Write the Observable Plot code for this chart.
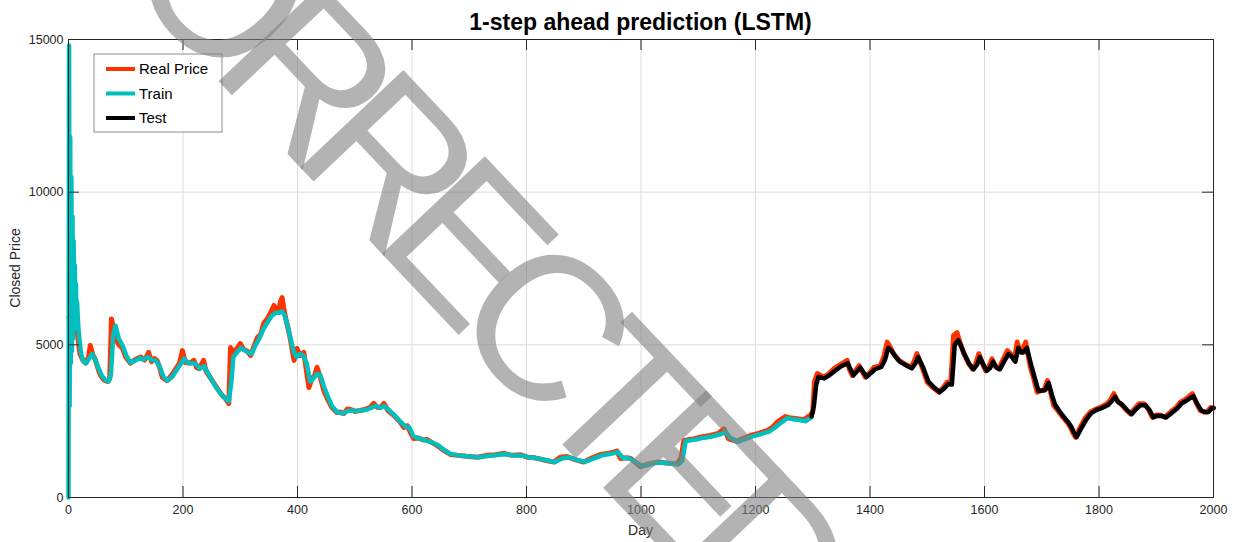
<!DOCTYPE html>
<html><head><meta charset="utf-8">
<script src="https://cdn.jsdelivr.net/npm/d3@7"></script>
<script src="https://cdn.jsdelivr.net/npm/@observablehq/plot@0.6"></script>
<style>body{margin:0;background:#fff;} #chart{width:1235px;height:542px;}</style>
</head><body><div id="chart"></div>
<script>
// ---- data (day, closed price) ----
const realPrice = [[1,5900],[4,6100],[7,5800],[10,6000],[13,5700],[16,5300],[20,4700],[25,4500],[30,4400],[35,4600],[38,4980],[42,4700],[47,4500],[52,4200],[56,4000],[62,3850],[68,3800],[72,3900],[75,5850],[78,5600],[82,5200],[88,5000],[94,4900],[100,4600],[108,4400],[115,4500],[120,4550],[126,4600],[133,4500],[140,4750],[145,4450],[150,4550],[155,4480],[160,4200],[164,3930],[172,3830],[180,4000],[187,4200],[194,4400],[199,4810],[204,4420],[212,4400],[219,4490],[224,4250],[228,4220],[236,4490],[240,4150],[245,4000],[252,3800],[260,3570],[268,3350],[274,3240],[280,3080],[283,4910],[289,4750],[295,4900],[300,5040],[306,4850],[312,4800],[318,4650],[324,4950],[330,5240],[336,5350],[341,5700],[347,5850],[353,6050],[359,6290],[363,6100],[367,6060],[370,6400],[373,6550],[376,6200],[379,5900],[384,5500],[388,5140],[391,4800],[394,4490],[399,4880],[405,4650],[411,4750],[416,4100],[420,3600],[425,3900],[430,4000],[434,4260],[440,3930],[446,3500],[452,3240],[460,2950],[469,2780],[475,2800],[481,2750],[487,2900],[493,2880],[500,2820],[510,2850],[520,2900],[527,2950],[533,3080],[540,2950],[545,2950],[551,3080],[558,2850],[568,2690],[578,2500],[586,2290],[592,2350],[598,2100],[603,1930],[612,1950],[620,1880],[626,1900],[635,1800],[644,1700],[655,1550],[667,1410],[680,1380],[695,1350],[714,1320],[730,1380],[745,1400],[760,1440],[775,1380],[790,1400],[801,1320],[815,1300],[830,1230],[848,1160],[859,1320],[871,1340],[885,1240],[900,1160],[915,1300],[929,1410],[945,1450],[958,1520],[964,1280],[975,1300],[982,1280],[990,1150],[999,1015],[1010,1080],[1028,1160],[1045,1130],[1063,1100],[1070,1300],[1075,1870],[1085,1900],[1092,1920],[1105,1980],[1121,2030],[1135,2100],[1145,2250],[1153,1920],[1168,1840],[1180,1950],[1191,2030],[1205,2100],[1220,2190],[1230,2300],[1238,2470],[1252,2650],[1262,2600],[1273,2580],[1285,2550],[1296,2700],[1300,2800],[1303,3800],[1308,4060],[1319,3940],[1328,4050],[1337,4220],[1348,4350],[1360,4490],[1364,4200],[1369,4000],[1381,4320],[1392,3940],[1400,4100],[1407,4260],[1418,4320],[1424,4600],[1430,5090],[1436,4900],[1441,4710],[1450,4500],[1459,4390],[1471,4270],[1477,4450],[1482,4710],[1491,4270],[1500,3780],[1510,3600],[1520,3450],[1528,3600],[1535,3780],[1541,3720],[1546,5310],[1552,5400],[1555,5200],[1564,4710],[1572,4400],[1579,4210],[1585,4400],[1590,4710],[1596,4400],[1602,4150],[1608,4300],[1613,4540],[1619,4300],[1625,4210],[1632,4500],[1640,4810],[1646,4700],[1652,4490],[1657,5090],[1662,4800],[1666,4810],[1672,5090],[1680,4270],[1686,3900],[1692,3450],[1698,3500],[1704,3510],[1710,3830],[1716,3400],[1721,3010],[1730,2800],[1739,2580],[1745,2450],[1750,2300],[1755,2100],[1759,1975],[1768,2330],[1776,2600],[1785,2800],[1795,2900],[1803,2960],[1814,3070],[1820,3200],[1826,3400],[1832,3150],[1838,3070],[1846,2900],[1855,2740],[1862,2900],[1870,3070],[1879,3070],[1886,2900],[1893,2630],[1900,2700],[1908,2690],[1915,2630],[1925,2800],[1935,2950],[1942,3120],[1950,3200],[1957,3300],[1963,3400],[1970,3100],[1977,2850],[1983,2800],[1989,2800],[1995,2950],[2000,2930]];

const trainPred = [[0,0],[1,14800],[2,3000],[3,11800],[4,4400],[5,10500],[6,4800],[7,9200],[8,5200],[9,8400],[10,5500],[11,7600],[12,5600],[13,7000],[14,5800],[15,6400],[17,5600],[19,5200],[22,4700],[26,4450],[31,4400],[36,4550],[41,4700],[46,4550],[52,4250],[58,4000],[64,3850],[70,3800],[74,4000],[78,5300],[82,5630],[88,5200],[95,4950],[101,4650],[108,4420],[116,4480],[124,4560],[131,4520],[139,4600],[146,4500],[153,4480],[159,4300],[166,3950],[173,3830],[181,3950],[188,4150],[195,4350],[202,4550],[208,4420],[215,4400],[222,4380],[229,4220],[237,4300],[243,4100],[250,3850],[258,3600],[266,3400],[273,3260],[280,3150],[284,3700],[288,4600],[294,4750],[301,4900],[308,4820],[314,4750],[320,4700],[327,5000],[333,5200],[340,5500],[348,5750],[355,5950],[362,6050],[368,6050],[373,6100],[378,5950],[383,5600],[388,5200],[393,4800],[398,4600],[404,4700],[410,4650],[416,4400],[422,3800],[428,3900],[434,4050],[440,4000],[446,3650],[452,3350],[460,3000],[469,2800],[478,2750],[486,2820],[494,2850],[502,2830],[512,2850],[522,2880],[530,2950],[537,3000],[544,2930],[551,3000],[559,2880],[569,2700],[579,2500],[588,2330],[595,2300],[603,2000],[613,1930],[622,1880],[632,1820],[645,1720],[656,1560],[668,1420],[682,1380],[700,1340],[716,1320],[732,1360],[748,1390],[762,1420],[777,1380],[792,1370],[805,1320],[820,1280],[835,1220],[850,1160],[862,1280],[873,1320],[888,1230],[903,1170],[918,1280],[932,1380],[947,1430],[960,1480],[968,1300],[980,1280],[992,1150],[1002,1030],[1015,1080],[1030,1150],[1048,1120],[1066,1090],[1072,1200],[1078,1850],[1088,1880],[1096,1900],[1110,1960],[1125,2000],[1140,2080],[1148,2150],[1156,1950],[1170,1830],[1183,1920],[1195,2000],[1210,2080],[1225,2170],[1235,2300],[1243,2430],[1256,2600],[1266,2560],[1277,2540],[1288,2500],[1297,2620]];

const testPred = [[1298,2650],[1302,3000],[1306,3700],[1310,3950],[1320,3900],[1329,4000],[1339,4150],[1350,4300],[1361,4400],[1366,4200],[1371,4000],[1383,4250],[1394,3950],[1402,4080],[1409,4200],[1420,4280],[1426,4500],[1432,4900],[1438,4800],[1443,4650],[1452,4450],[1461,4350],[1473,4230],[1479,4380],[1484,4600],[1493,4250],[1502,3800],[1512,3600],[1522,3450],[1530,3580],[1537,3720],[1543,3700],[1548,5000],[1554,5150],[1558,5000],[1566,4650],[1574,4350],[1581,4200],[1587,4350],[1592,4600],[1598,4350],[1604,4150],[1610,4250],[1615,4450],[1621,4250],[1627,4200],[1634,4450],[1642,4700],[1648,4600],[1654,4450],[1659,4900],[1664,4750],[1668,4750],[1674,4900],[1682,4300],[1688,3900],[1694,3500],[1700,3500],[1706,3520],[1712,3750],[1718,3350],[1723,3050],[1732,2800],[1741,2580],[1747,2450],[1752,2300],[1757,2100],[1761,1980],[1770,2300],[1778,2560],[1787,2770],[1797,2880],[1805,2930],[1816,3030],[1822,3150],[1828,3300],[1834,3120],[1840,3050],[1848,2880],[1857,2730],[1864,2880],[1872,3020],[1881,3020],[1888,2870],[1895,2620],[1902,2680],[1910,2670],[1917,2620],[1927,2770],[1937,2920],[1944,3080],[1952,3160],[1959,3250],[1965,3320],[1972,3050],[1979,2850],[1985,2800],[1991,2800],[1997,2920],[2000,2930]];

const xTicks = [0, 200, 400, 600, 800, 1000, 1200, 1400, 1600, 1800, 2000];
const yTicks = [0, 5000, 10000, 15000];
const seriesNames = ["Real Price", "Train", "Test"];
const seriesColors = ["#ff3300", "#00bfbf", "#000000"];
const titleText = "1-step ahead prediction (LSTM)";
const xLabel = "Day";
const yLabel = "Closed Price";
const watermark = "CORRECTED";

// ---- layout ----
const W = 1235, H = 542, mL = 68, mR = 22, mT = 39, mB = 45;
const plotW = W - mL - mR, plotH = H - mT - mB, tickLen = 11;
const axisColor = "#262626";
const font = "'Liberation Sans', Arial, Helvetica, sans-serif";

const chart = Plot.plot({
  width: W, height: H,
  marginLeft: mL, marginRight: mR, marginTop: mT, marginBottom: mB,
  style: {fontFamily: font, fontSize: "12.5px", color: axisColor, background: "#fff", overflow: "visible"},
  x: {domain: [0, 2000]},
  y: {domain: [0, 15000]},
  marks: [
    Plot.gridX(xTicks, {stroke: "#dcdcdc", strokeOpacity: 1}),
    Plot.gridY(yTicks, {stroke: "#dcdcdc", strokeOpacity: 1}),
    Plot.line(realPrice, {x: d => d[0], y: d => d[1], stroke: seriesColors[0], strokeWidth: 5, strokeLinejoin: "round"}),
    Plot.line(trainPred, {x: d => d[0], y: d => d[1], stroke: seriesColors[1], strokeWidth: 4.5, strokeLinejoin: "round"}),
    Plot.line(testPred, {x: d => d[0], y: d => d[1], stroke: seriesColors[2], strokeWidth: 4.5, strokeLinejoin: "round"}),
    Plot.tickX(xTicks, {x: d => d, insetTop: plotH - tickLen, stroke: axisColor}),
    Plot.tickX(xTicks, {x: d => d, insetBottom: plotH - tickLen, stroke: axisColor}),
    Plot.tickY(yTicks, {y: d => d, insetRight: plotW - tickLen, stroke: axisColor}),
    Plot.tickY(yTicks, {y: d => d, insetLeft: plotW - tickLen, stroke: axisColor}),
    Plot.frame({stroke: axisColor, strokeWidth: 1}),
    Plot.axisX(xTicks, {tickSize: 0, tickPadding: 8, label: null, tickFormat: d => String(d), fill: axisColor}),
    Plot.axisY(yTicks, {tickSize: 0, tickPadding: 5, label: null, tickFormat: d => String(d), fill: axisColor})
  ]
});
document.getElementById("chart").appendChild(chart);

const svg = d3.select(chart);
// title and axis labels
svg.append("text").attr("x", mL + plotW / 2).attr("y", 30).attr("text-anchor", "middle")
  .attr("font-family", font).attr("font-weight", "bold").attr("font-size", 23).attr("fill", "#000").text(titleText);
svg.append("text").attr("x", mL + plotW / 2).attr("y", 535).attr("text-anchor", "middle")
  .attr("font-family", font).attr("font-size", 14).attr("fill", axisColor).text(xLabel);
svg.append("text").attr("transform", `translate(20,${mT + plotH / 2}) rotate(-90)`).attr("text-anchor", "middle")
  .attr("font-family", font).attr("font-size", 14).attr("fill", axisColor).text(yLabel);

// legend
const lg = svg.append("g").attr("transform", "translate(94,54)");
lg.append("rect").attr("width", 128).attr("height", 78).attr("fill", "#fff").attr("stroke", "#8c8c8c").attr("stroke-width", 1);
seriesNames.forEach((name, i) => {
  const yy = 15 + i * 24.5;
  lg.append("line").attr("x1", 12).attr("x2", 41).attr("y1", yy).attr("y2", yy)
    .attr("stroke", seriesColors[i]).attr("stroke-width", 4);
  lg.append("text").attr("x", 45).attr("y", yy + 5).attr("text-anchor", "start").attr("font-family", font).attr("font-size", 15)
    .attr("fill", "#000").text(name);
});

// watermark
svg.append("text").attr("transform", "translate(36,-112) rotate(46.6)").attr("text-anchor", "start")
  .attr("font-family", font).attr("font-size", 206).attr("letter-spacing", -30)
  .attr("fill", "#808080").attr("fill-opacity", 0.6).attr("pointer-events", "none").text(watermark);
</script>
</body></html>
